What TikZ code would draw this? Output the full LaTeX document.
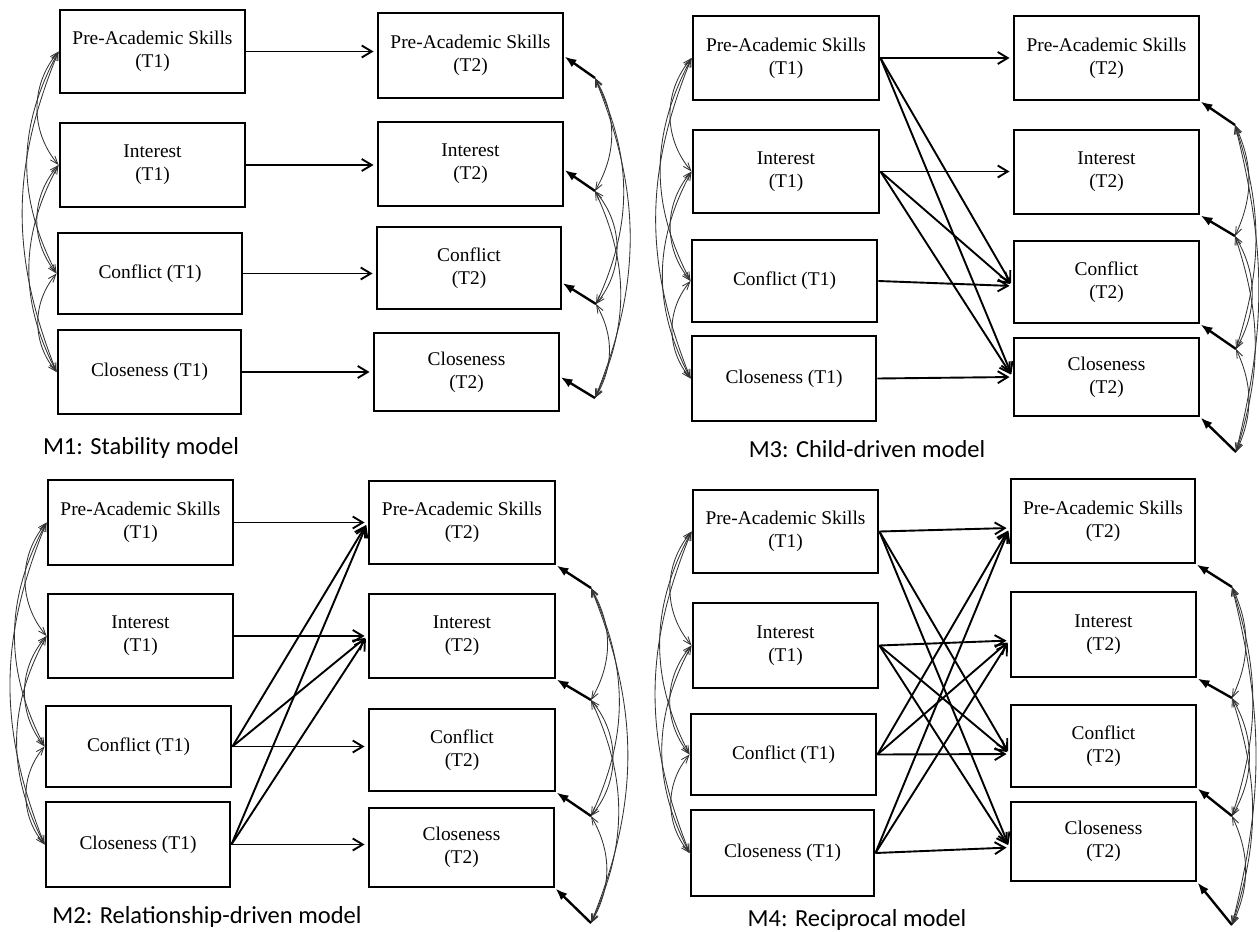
\documentclass[tikz,border=0pt]{standalone}
\usepackage{fontspec}
\setmainfont{Liberation Serif}
\newfontfamily\labfont{Carlito}
\usetikzlibrary{arrows.meta}
\tikzset{
  vbox/.style={draw, line width=2.9pt, minimum width=185pt, minimum height=84pt,
    align=center, inner sep=0pt, font=\fontsize{19.4}{23}\selectfont},
  reg/.style={line width=1.9pt, -{Straight Barb[length=10pt,width=12pt]}, shorten >=3pt},
  res/.style={line width=2.4pt, -{Latex[length=12pt,width=9pt]}},
  cov/.style={line width=0.85pt, draw=black!80,
    {Straight Barb[length=8pt,width=6pt]}-{Straight Barb[length=8pt,width=6pt]}},
  lab/.style={font=\labfont\fontsize{24.5}{28}\selectfont, inner sep=0pt},
}
\newcommand\covleft[4]{%
  \draw[cov] (#1.west) to[bend right=40] (#2.west);
  \draw[cov] (#2.west) to[bend right=40] (#3.west);
  \draw[cov] (#3.west) to[bend right=40] (#4.west);
  \draw[cov] (#1.west) to[bend right=28] (#3.west);
  \draw[cov] (#2.west) to[bend right=28] (#4.west);
  \draw[cov] (#1.west) to[bend right=22] (#4.west);
}
\newcommand\covright[4]{%
  \draw[cov] (#1) to[bend left=30] (#2);
  \draw[cov] (#2) to[bend left=40] (#3);
  \draw[cov] (#3) to[bend left=30] (#4);
  \draw[cov] (#1) to[bend left=25] (#3);
  \draw[cov] (#2) to[bend left=25] (#4);
  \draw[cov] (#1) to[bend left=22] (#4);
}
\newcommand\covrightnarrow[4]{%
  \draw[cov] (#1) to[bend left=25] (#2);
  \draw[cov] (#2) to[bend left=30] (#3);
  \draw[cov] (#3) to[bend left=25] (#4);
  \draw[cov] (#1) to[bend left=18] (#3);
  \draw[cov] (#2) to[bend left=18] (#4);
  \draw[cov] (#1) to[bend left=14] (#4);
}
\begin{document}
\begin{tikzpicture}[x=1pt,y=-1pt]
\useasboundingbox (0,0) rectangle (1259,932);

% ---------------- M1 ----------------
\node[vbox, minimum height=83pt] (a1) at (152.5,51.5) {Pre-Academic Skills\\(T1)};
\node[vbox] (a2) at (152.5,165) {Interest\\(T1)};
\node[vbox, minimum width=184pt, minimum height=81pt] (a3) at (150,273.5) {Conflict (T1)};
\node[vbox, minimum width=183pt] (a4) at (149.5,372) {Closeness (T1)};
\node[vbox, minimum height=85pt] (b1) at (470.5,55.5) {Pre-Academic Skills\\(T2)};
\node[vbox] (b2) at (470.5,164) {Interest\\(T2)};
\node[vbox, minimum width=184pt, minimum height=82pt] (b3) at (469,268) {Conflict\\(T2)};
\node[vbox, minimum height=78pt] (b4) at (466.5,372) {Closeness\\(T2)};
\coordinate (ar1) at (595,78);
\coordinate (ar2) at (595,191);
\coordinate (ar3) at (596,304);
\coordinate (ar4) at (595,398);
\draw[reg] (a1.east) -- (a1.east -| b1.west);
\draw[reg] (a2.east) -- (a2.east -| b2.west);
\draw[reg] (a3.east) -- (a3.east -| b3.west);
\draw[reg] (a4.east) -- (a4.east -| b4.west);
\draw[res] (ar1) -- ([yshift=-1pt]b1.east);
\draw[res] (ar2) -- ([yshift=-6pt]b2.east);
\draw[res] (ar3) -- ([yshift=-15pt]b3.east);
\draw[res] (ar4) -- ([yshift=-5pt]b4.east);
\covleft{a1}{a2}{a3}{a4}
\covright{ar1}{ar2}{ar3}{ar4}
\node[lab] (m1) at (141,448) {M1: Stability model};

% ---------------- M3 ----------------
\node[vbox, minimum width=186pt] (c1) at (786,58) {Pre-Academic Skills\\(T1)};
\node[vbox, minimum width=186pt, minimum height=83pt] (c2) at (786,171.5) {Interest\\(T1)};
\node[vbox, minimum height=82pt] (c3) at (784.5,281) {Conflict (T1)};
\node[vbox, minimum width=184pt, minimum height=85pt] (c4) at (784,378.5) {Closeness (T1)};
\node[vbox] (d1) at (1106.5,58) {Pre-Academic Skills\\(T2)};
\node[vbox] (d2) at (1106.5,172) {Interest\\(T2)};
\node[vbox, minimum height=82pt] (d3) at (1106.5,282) {Conflict\\(T2)};
\node[vbox, minimum height=78pt] (d4) at (1106.5,377) {Closeness\\(T2)};
\coordinate (cr1) at (1235,125);
\coordinate (cr2) at (1235,236);
\coordinate (cr3) at (1236,349);
\coordinate (cr4) at (1236,452);
\draw[reg] (c1.east) -- (c1.east -| d1.west);
\draw[reg] (c2.east) -- (c2.east -| d2.west);
\draw[reg] (c3.east) -- ([yshift=-4pt]d3.west);
\draw[reg] (c4.east) -- (d4.west);
\draw[reg] (c1.east) -- ([yshift=-4pt]d3.west);
\draw[reg] (c1.east) -- (d4.west);
\draw[reg] (c2.east) -- ([yshift=-4pt]d3.west);
\draw[reg] (c2.east) -- (d4.west);
\draw[res] (cr1) -- (d1.south east);
\draw[res] (cr2) -- (d2.south east);
\draw[res] (cr3) -- (d3.south east);
\draw[res] (cr4) -- (d4.south east);
\covleft{c1}{c2}{c3}{c4}
\covrightnarrow{cr1}{cr2}{cr3}{cr4}
\node[lab] (m3) at (867,449) {M3: Child-driven model};

% ---------------- M2 ----------------
\node[vbox, minimum height=85pt] (e1) at (140.5,522.5) {Pre-Academic Skills\\(T1)};
\node[vbox] (e2) at (140.5,636) {Interest\\(T1)};
\node[vbox, minimum height=81pt] (e3) at (138.5,746.5) {Conflict (T1)};
\node[vbox, minimum width=184pt, minimum height=85pt] (e4) at (138,844.5) {Closeness (T1)};
\node[vbox, minimum width=186pt, minimum height=83pt] (f1) at (462,522.5) {Pre-Academic Skills\\(T2)};
\node[vbox, minimum width=186pt] (f2) at (462,636) {Interest\\(T2)};
\node[vbox, minimum width=186pt, minimum height=82pt] (f3) at (462,750) {Conflict\\(T2)};
\node[vbox, minimum height=79pt] (f4) at (461.5,847.5) {Closeness\\(T2)};
\coordinate (er1) at (591,588);
\coordinate (er2) at (591,700);
\coordinate (er3) at (591,816);
\coordinate (er4) at (591,923);
\draw[reg] (e1.east) -- (f1.west);
\draw[reg] (e2.east) -- (f2.west);
\draw[reg] (e3.east) -- (e3.east -| f3.west);
\draw[reg] (e4.east) -- (e4.east -| f4.west);
\draw[reg] (e3.east) -- (f1.west);
\draw[reg] (e3.east) -- (f2.west);
\draw[reg] (e4.east) -- (f1.west);
\draw[reg] (e4.east) -- (f2.west);
\draw[res] (er1) -- (f1.south east);
\draw[res] (er2) -- (f2.south east);
\draw[res] (er3) -- (f3.south east);
\draw[res] (er4) -- (f4.south east);
\covleft{e1}{e2}{e3}{e4}
\covright{er1}{er2}{er3}{er4}
\node[lab] (m2) at (207,917) {M2: Relationship-driven model};

% ---------------- M4 ----------------
\node[vbox, minimum height=83pt] (g1) at (785.5,531.5) {Pre-Academic Skills\\(T1)};
\node[vbox, minimum height=85pt] (g2) at (785.5,645.5) {Interest\\(T1)};
\node[vbox, minimum height=81pt] (g3) at (783.5,754.5) {Conflict (T1)};
\node[vbox, minimum width=183pt, minimum height=86pt] (g4) at (782.5,853) {Closeness (T1)};
\node[vbox, minimum width=184pt] (h1) at (1103,521) {Pre-Academic Skills\\(T2)};
\node[vbox, minimum height=85pt] (h2) at (1103.5,634.5) {Interest\\(T2)};
\node[vbox, minimum height=82pt] (h3) at (1103.5,746) {Conflict\\(T2)};
\node[vbox, minimum height=79pt] (h4) at (1103.5,841.5) {Closeness\\(T2)};
\coordinate (h1in) at ([yshift=-7pt]h1.west);
\coordinate (h2in) at ([yshift=-6pt]h2.west);
\coordinate (h3in) at ([yshift=-8pt]h3.west);
\coordinate (h4in) at ([yshift=-6pt]h4.west);
\coordinate (gr1) at (1232,587);
\coordinate (gr2) at (1232,698);
\coordinate (gr3) at (1232,816);
\coordinate (gr4) at (1232,925);
\draw[reg] (g1.east) -- (h1in);
\draw[reg] (g2.east) -- (h2in);
\draw[reg] (g3.east) -- (h3in);
\draw[reg] (g4.east) -- (h4in);
\draw[reg] (g1.east) -- (h3in);
\draw[reg] (g1.east) -- (h4in);
\draw[reg] (g2.east) -- (h3in);
\draw[reg] (g2.east) -- (h4in);
\draw[reg] (g3.east) -- (h1in);
\draw[reg] (g3.east) -- (h2in);
\draw[reg] (g4.east) -- (h1in);
\draw[reg] (g4.east) -- (h2in);
\draw[res] (gr1) -- (h1.south east);
\draw[res] (gr2) -- (h2.south east);
\draw[res] (gr3) -- (h3.south east);
\draw[res] (gr4) -- (h4.south east);
\covleft{g1}{g2}{g3}{g4}
\covrightnarrow{gr1}{gr2}{gr3}{gr4}
\node[lab] (m4) at (857,920) {M4: Reciprocal model};
\end{tikzpicture}
\end{document}
